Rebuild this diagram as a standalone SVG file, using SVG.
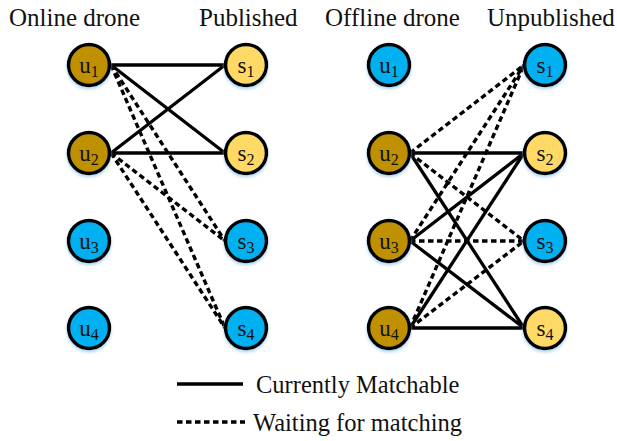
<svg xmlns="http://www.w3.org/2000/svg" width="617" height="441" viewBox="0 0 617 441">
<defs>
<filter id="glow" x="-30%" y="-30%" width="160%" height="170%">
<feDropShadow dx="0" dy="2" stdDeviation="1.5" flood-color="#8fc3ea" flood-opacity="0.7"/>
</filter>
</defs>
<style>
text{font-family:"Liberation Serif","Times New Roman",serif;fill:#111}
.h{font-size:25px}
.lg{font-size:24.5px}
.lb{font-size:23px;text-anchor:middle}
.sub{font-size:16px}
circle{stroke:#000;stroke-width:3.5;filter:url(#glow)}
.on{fill:#BF9000}
.pub{fill:#FFD966}
.off{fill:#00B0F0}
.s{stroke:#000;stroke-width:3.3;fill:none}
.d{stroke:#000;stroke-width:3.4;fill:none;stroke-dasharray:5.5 3.5}
</style>
<rect width="617" height="441" fill="#fff"/>
<g id="headings">
<text class="h" x="9" y="26">Online drone</text>
<text class="h" x="199" y="26">Published</text>
<text class="h" x="325" y="26">Offline drone</text>
<text class="h" x="487" y="26">Unpublished</text>
</g>
<g id="connectors">
<line class="s" x1="111" y1="65" x2="225" y2="65"/>
<line class="s" x1="111" y1="65" x2="225" y2="153"/>
<line class="s" x1="111" y1="153" x2="225" y2="65"/>
<line class="s" x1="111" y1="153" x2="225" y2="153"/>
<line class="d" x1="111" y1="65" x2="225" y2="241"/>
<line class="d" x1="111" y1="65" x2="225" y2="328"/>
<line class="d" x1="111" y1="153" x2="225" y2="241"/>
<line class="d" x1="111" y1="153" x2="225" y2="328"/>
<line class="s" x1="410" y1="153" x2="524" y2="153"/>
<line class="d" x1="410" y1="153" x2="524" y2="65"/>
<line class="d" x1="410" y1="153" x2="524" y2="241"/>
<line class="s" x1="410" y1="153" x2="524" y2="328"/>
<line class="d" x1="410" y1="241" x2="524" y2="65"/>
<line class="s" x1="410" y1="241" x2="524" y2="153"/>
<line class="d" x1="410" y1="241" x2="524" y2="241"/>
<line class="s" x1="410" y1="241" x2="524" y2="328"/>
<line class="d" x1="410" y1="328" x2="524" y2="65"/>
<line class="s" x1="410" y1="328" x2="524" y2="153"/>
<line class="d" x1="410" y1="328" x2="524" y2="241"/>
<line class="s" x1="410" y1="328" x2="524" y2="328"/>
</g>
<g id="L-u1"><circle class="on" cx="89" cy="65" r="20.5"/><text class="lb" x="89" y="72.5">u<tspan class="sub" dy="4">1</tspan></text></g>
<g id="L-u2"><circle class="on" cx="89" cy="153" r="20.5"/><text class="lb" x="89" y="160.5">u<tspan class="sub" dy="4">2</tspan></text></g>
<g id="L-u3"><circle class="off" cx="89" cy="241" r="20.5"/><text class="lb" x="89" y="248.5">u<tspan class="sub" dy="4">3</tspan></text></g>
<g id="L-u4"><circle class="off" cx="89" cy="328" r="20.5"/><text class="lb" x="89" y="335.5">u<tspan class="sub" dy="4">4</tspan></text></g>
<g id="L-s1"><circle class="pub" cx="246" cy="65" r="20.5"/><text class="lb" x="246" y="72.5">s<tspan class="sub" dy="4">1</tspan></text></g>
<g id="L-s2"><circle class="pub" cx="246" cy="153" r="20.5"/><text class="lb" x="246" y="160.5">s<tspan class="sub" dy="4">2</tspan></text></g>
<g id="L-s3"><circle class="off" cx="246" cy="241" r="20.5"/><text class="lb" x="246" y="248.5">s<tspan class="sub" dy="4">3</tspan></text></g>
<g id="L-s4"><circle class="off" cx="246" cy="328" r="20.5"/><text class="lb" x="246" y="335.5">s<tspan class="sub" dy="4">4</tspan></text></g>
<g id="R-u1"><circle class="off" cx="389" cy="65" r="20.5"/><text class="lb" x="389" y="72.5">u<tspan class="sub" dy="4">1</tspan></text></g>
<g id="R-u2"><circle class="on" cx="389" cy="153" r="20.5"/><text class="lb" x="389" y="160.5">u<tspan class="sub" dy="4">2</tspan></text></g>
<g id="R-u3"><circle class="on" cx="389" cy="241" r="20.5"/><text class="lb" x="389" y="248.5">u<tspan class="sub" dy="4">3</tspan></text></g>
<g id="R-u4"><circle class="on" cx="389" cy="328" r="20.5"/><text class="lb" x="389" y="335.5">u<tspan class="sub" dy="4">4</tspan></text></g>
<g id="R-s1"><circle class="off" cx="545" cy="65" r="20.5"/><text class="lb" x="545" y="72.5">s<tspan class="sub" dy="4">1</tspan></text></g>
<g id="R-s2"><circle class="pub" cx="545" cy="153" r="20.5"/><text class="lb" x="545" y="160.5">s<tspan class="sub" dy="4">2</tspan></text></g>
<g id="R-s3"><circle class="off" cx="545" cy="241" r="20.5"/><text class="lb" x="545" y="248.5">s<tspan class="sub" dy="4">3</tspan></text></g>
<g id="R-s4"><circle class="pub" cx="545" cy="328" r="20.5"/><text class="lb" x="545" y="335.5">s<tspan class="sub" dy="4">4</tspan></text></g>
<g id="legend">
<line class="s" x1="177" y1="384" x2="243" y2="384"/>
<text class="lg" x="256" y="393">Currently Matchable</text>
<line class="d" x1="177" y1="422" x2="245" y2="422"/>
<text class="lg" x="253" y="431">Waiting for matching</text>
</g>
</svg>
